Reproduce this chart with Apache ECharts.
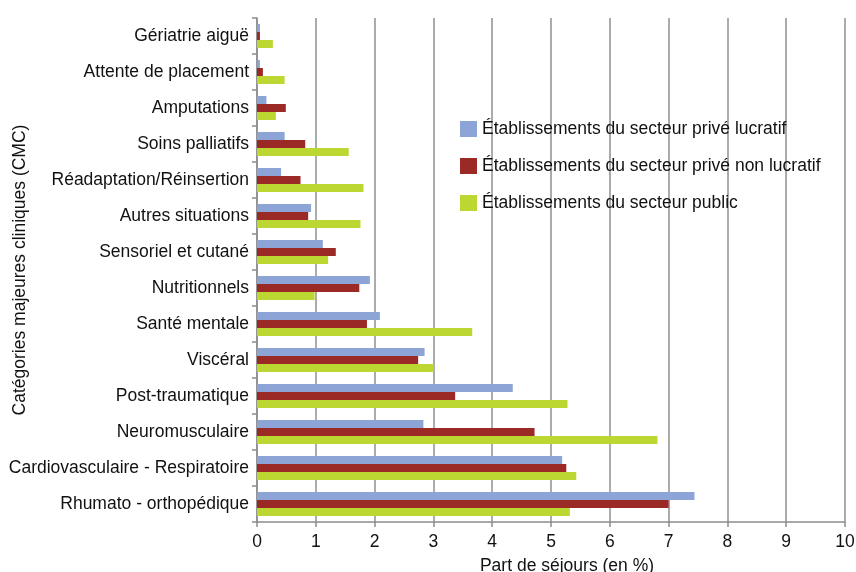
<!DOCTYPE html>
<html>
<head>
<meta charset="utf-8">
<script src="https://cdn.jsdelivr.net/npm/echarts@6/dist/echarts.min.js"></script>
<style>
html,body{margin:0;padding:0;background:#fff;}
#c{width:856px;height:572px;}
</style>
</head>
<body>
<div id="c"></div>
<script>
// Categories, top to bottom
const categories = [
  'Gériatrie aiguë',
  'Attente de placement',
  'Amputations',
  'Soins palliatifs',
  'Réadaptation/Réinsertion',
  'Autres situations',
  'Sensoriel et cutané',
  'Nutritionnels',
  'Santé mentale',
  'Viscéral',
  'Post-traumatique',
  'Neuromusculaire',
  'Cardiovasculaire - Respiratoire',
  'Rhumato - orthopédique'
];
const seriesNames = [
  'Établissements du secteur privé lucratif',
  'Établissements du secteur privé non lucratif',
  'Établissements du secteur public'
];
const priveLucratif    = [0.05, 0.05, 0.16, 0.47, 0.41, 0.92, 1.12, 1.92, 2.09, 2.85, 4.35, 2.83, 5.19, 7.44];
const priveNonLucratif = [0.05, 0.10, 0.49, 0.82, 0.74, 0.87, 1.34, 1.74, 1.87, 2.74, 3.37, 4.72, 5.26, 7.00];
const secteurPublic    = [0.27, 0.47, 0.32, 1.56, 1.81, 1.76, 1.21, 0.98, 3.66, 3.01, 5.28, 6.81, 5.43, 5.32];
const xTicks = [0, 1, 2, 3, 4, 5, 6, 7, 8, 9, 10];

const colors = ['#8da5d6', '#9b2a26', '#bcd632'];
const font = 'Liberation Sans, Arial, sans-serif';
const fs = 17.5;
const txt = '#111111';

const chart = echarts.init(document.getElementById('c'), null, {renderer: 'canvas'});
const data = [priveLucratif, priveNonLucratif, secteurPublic];
chart.setOption({
  animation: false,
  backgroundColor: '#ffffff',
  textStyle: {fontFamily: font},
  grid: {left: 257, right: 11, top: 18, bottom: 50, containLabel: false, outerBoundsMode: 'none'},
  legend: {
    data: seriesNames,
    orient: 'vertical',
    left: 455,
    top: 115,
    itemWidth: 17,
    itemHeight: 16,
    itemGap: 19,
    icon: 'rect',
    textStyle: {fontFamily: font, fontSize: fs, color: txt, lineHeight: 16}
  },
  xAxis: {
    type: 'value',
    min: xTicks[0],
    max: xTicks[xTicks.length - 1],
    interval: 1,
    name: 'Part de séjours (en %)',
    nameLocation: 'middle',
    nameGap: 35,
    nameMoveOverlap: false,
    nameTextStyle: {fontFamily: font, fontSize: fs, color: txt, padding: [0, 0, 0, 32]},
    axisLine: {show: true, lineStyle: {color: '#8c8c8c', width: 1.5}},
    axisTick: {show: true, length: 5, lineStyle: {color: '#8c8c8c', width: 1.5}},
    axisLabel: {fontFamily: font, fontSize: fs, color: txt, margin: 11},
    splitLine: {show: true, lineStyle: {color: '#ababab', width: 2}}
  },
  yAxis: {
    type: 'category',
    data: categories,
    inverse: true,
    name: 'Catégories majeures cliniques (CMC)',
    nameLocation: 'middle',
    nameGap: 228,
    nameMoveOverlap: false,
    nameTextStyle: {fontFamily: font, fontSize: fs, color: txt},
    axisLine: {show: true, lineStyle: {color: '#8c8c8c', width: 1.5}},
    axisTick: {show: true, length: 5, lineStyle: {color: '#8c8c8c', width: 1.5}},
    axisLabel: {fontFamily: font, fontSize: fs, color: txt, margin: 8, padding: [0, 0, 5, 0]},
    splitLine: {show: false}
  },
  series: seriesNames.map((n, i) => ({
    name: n,
    type: 'bar',
    data: data[i],
    barWidth: 8,
    barGap: '0%',
    itemStyle: {color: colors[i]}
  }))
});
</script>
</body>
</html>
